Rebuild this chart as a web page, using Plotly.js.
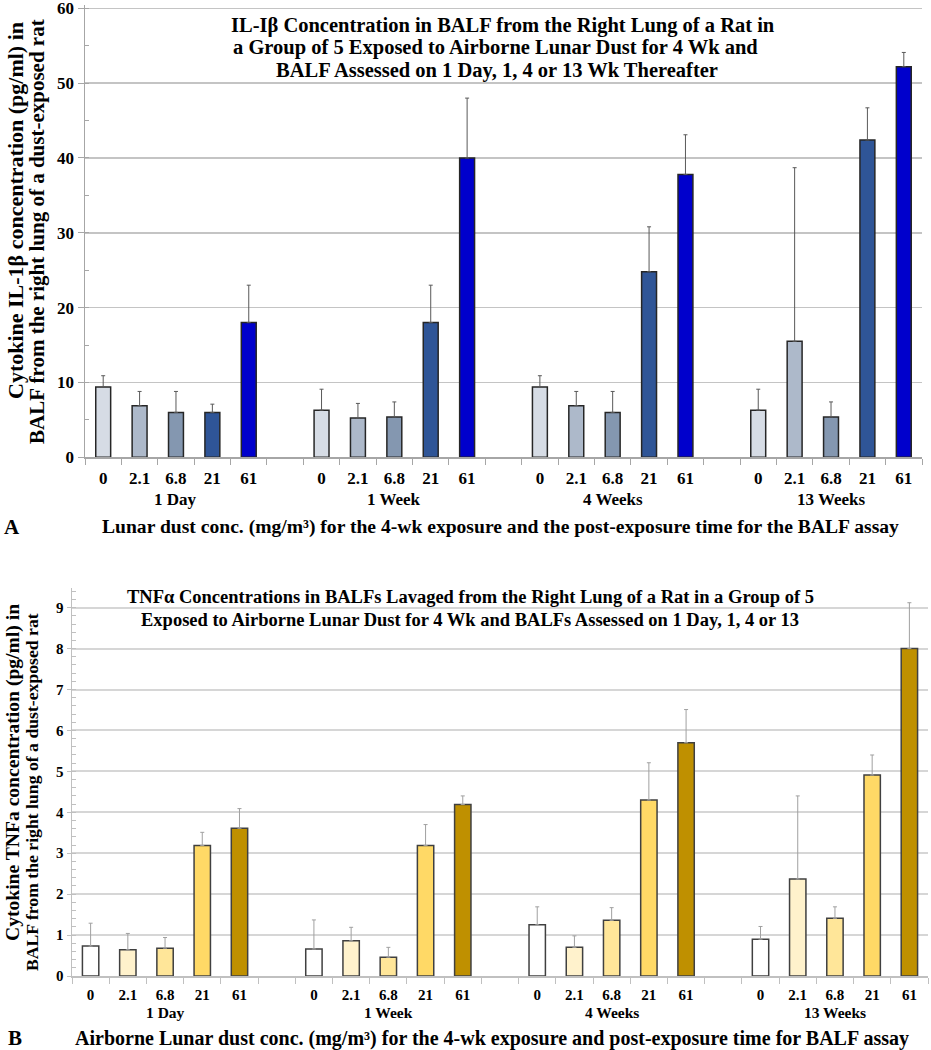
<!DOCTYPE html>
<html>
<head>
<meta charset="utf-8">
<script src="https://cdn.plot.ly/plotly-3.0.1.min.js"></script>
<style>html,body{margin:0;padding:0;background:#fff;}#chart{width:931px;height:1050px;}</style>
</head>
<body>
<div id="chart"></div>
<script>
// ---------- data ----------
const groups = ["1 Day", "1 Week", "4 Weeks", "13 Weeks"];
const concs = ["0", "2.1", "6.8", "21", "61"];

// Panel A: IL-1β (pg/ml), mean and SD per group, ordered by concs
const il1bMean1Day   = [9.4, 6.9, 6.0, 6.0, 18.0];
const il1bMean1Week  = [6.3, 5.25, 5.4, 18.0, 40.0];
const il1bMean4Weeks = [9.4, 6.9, 6.0, 24.8, 37.8];
const il1bMean13Weeks= [6.3, 15.5, 5.4, 42.4, 52.2];
const il1bSd1Day     = [1.5, 1.9, 2.8, 1.1, 5.0];
const il1bSd1Week    = [2.8, 1.95, 2.0, 5.0, 8.0];
const il1bSd4Weeks   = [1.5, 1.9, 2.8, 6.0, 5.3];
const il1bSd13Weeks  = [2.8, 23.2, 2.0, 4.3, 1.9];

// Panel B: TNFα (pg/ml)
const tnfMean1Day    = [0.73, 0.64, 0.68, 3.19, 3.61];
const tnfMean1Week   = [0.66, 0.86, 0.46, 3.19, 4.19];
const tnfMean4Weeks  = [1.25, 0.70, 1.36, 4.30, 5.70];
const tnfMean13Weeks = [0.90, 2.37, 1.41, 4.91, 8.00];
const tnfSd1Day      = [0.56, 0.40, 0.26, 0.32, 0.48];
const tnfSd1Week     = [0.71, 0.33, 0.24, 0.51, 0.21];
const tnfSd4Weeks    = [0.44, 0.28, 0.31, 0.91, 0.81];
const tnfSd13Weeks   = [0.31, 2.03, 0.28, 0.49, 1.12];

const blueColors = ["#d6dce5", "#adb9ca", "#8497b0", "#2f5597", "#0000cc"];
const goldColors = ["#ffffff", "#fff2cc", "#ffe699", "#ffd966", "#bf9000"];

const titleA = ["IL-Iβ Concentration in BALF from the Right Lung of a Rat in",
                "a Group of 5 Exposed to Airborne Lunar Dust for 4 Wk and",
                "BALF Assessed on 1 Day, 1, 4 or 13 Wk Thereafter"];
const titleB = ["TNFα Concentrations in BALFs Lavaged from the Right Lung of a Rat in a Group of 5",
                "Exposed to Airborne Lunar Dust for 4 Wk and BALFs Assessed on 1 Day, 1, 4 or 13"];
const yTitleA = ["Cytokine IL-1β concentration (pg/ml) in", "BALF from the right lung of a dust-exposed rat"];
const yTitleB = ["Cytokine TNFa concentration (pg/ml) in", "BALF from the right lung of a dust-exposed rat"];
const xTitleA = "Lunar dust conc. (mg/m³) for the 4-wk exposure and the post-exposure time for the BALF assay";
const xTitleB = "Airborne Lunar dust conc. (mg/m³) for the 4-wk exposure and post-exposure time for BALF assay";

// ---------- build ----------
const W = 931, H = 1050;
const serif = '"Liberation Serif", "Times New Roman", serif';

const cats = [], catText = [], barCats = [];
groups.forEach((g, gi) => {
  if (gi > 0) { cats.push("gap" + gi); catText.push(""); }
  concs.forEach(c => { const id = g + "|" + c; cats.push(id); catText.push(c); barCats.push(id); });
});

const il1bMeans = [il1bMean1Day, il1bMean1Week, il1bMean4Weeks, il1bMean13Weeks].flat();
const il1bSds = [il1bSd1Day, il1bSd1Week, il1bSd4Weeks, il1bSd13Weeks].flat();
const tnfMeans = [tnfMean1Day, tnfMean1Week, tnfMean4Weeks, tnfMean13Weeks].flat();
const tnfSds = [tnfSd1Day, tnfSd1Week, tnfSd4Weeks, tnfSd13Weeks].flat();
const zeros = barCats.map(() => 0);
const blues = groups.map(() => blueColors).flat();
const golds = groups.map(() => goldColors).flat();

const traces = [
  {
    type: "bar", x: barCats, y: il1bMeans, xaxis: "x", yaxis: "y", width: 0.41,
    marker: { color: blues, line: { color: "#262626", width: 1.5 } },
    error_y: { type: "data", symmetric: false, array: il1bSds, arrayminus: zeros, color: "#595959", thickness: 1, width: 2 },
    hoverinfo: "y", showlegend: false
  },
  {
    type: "bar", x: barCats, y: tnfMeans, xaxis: "x2", yaxis: "y2", width: 0.44,
    marker: { color: golds, line: { color: "#404040", width: 1.5 } },
    error_y: { type: "data", symmetric: false, array: tnfSds, arrayminus: zeros, color: "#a0a0a0", thickness: 1, width: 2 },
    hoverinfo: "y", showlegend: false
  }
];

const py = p => 1 - p / H;
const px = p => p / W;

function xAxis(domain, anchor, fontSize, lineColor, standoff) {
  return {
    domain: domain, anchor: anchor, type: "category",
    categoryorder: "array", categoryarray: cats, range: [-0.5, cats.length - 0.5],
    tickmode: "array", tickvals: cats, ticktext: catText, tickson: "boundaries",
    ticks: "outside", ticklen: 6, tickcolor: lineColor, tickwidth: 1,
    ticklabelstandoff: standoff,
    showline: true, linecolor: lineColor, linewidth: 1.5, showgrid: false, zeroline: false,
    tickfont: { family: serif, size: fontSize, color: "#000", weight: "bold" }
  };
}

// panel A: 0 at 457.3px, 60 at 8.3px
const aZero = 457.3, aSixty = 8.3, aTopVal = 60.4;
const aTopPx = aZero - (aZero - aSixty) * aTopVal / 60;

const layout = {
  width: W, height: H,
  margin: { l: 0, r: 0, t: 0, b: 0 },
  paper_bgcolor: "#fff", plot_bgcolor: "#fff",
  barmode: "overlay",
  xaxis: xAxis([px(85), px(922)], "y", 17, "#a6a6a6", 5),
  yaxis: {
    domain: [py(aZero), py(aTopPx)], anchor: "x", range: [0, aTopVal], dtick: 10,
    ticks: "outside", ticklen: 6, tickcolor: "#a6a6a6", ticklabeloverflow: "allow",
    minor: { dtick: 5, ticks: "inside", ticklen: 4, tickcolor: "#a6a6a6", showgrid: false },
    showline: true, linecolor: "#a6a6a6", linewidth: 1.5,
    gridcolor: "#c4c4c4", gridwidth: 1.5, zeroline: false,
    tickfont: { family: serif, size: 17, color: "#000", weight: "bold" }
  },
  xaxis2: xAxis([px(72), px(928)], "y2", 15, "#c0c0c0", 4),
  yaxis2: {
    domain: [py(976), py(588)], anchor: "x2", range: [0, 9.48], dtick: 1,
    ticks: "outside", ticklen: 4, tickcolor: "#c0c0c0", ticklabeloverflow: "allow",
    minor: { dtick: 0.2, ticks: "inside", ticklen: 4, tickcolor: "#c0c0c0", showgrid: false },
    showline: true, linecolor: "#c0c0c0", linewidth: 1.5,
    gridcolor: "#d6d6d6", gridwidth: 2, zeroline: false,
    tickfont: { family: serif, size: 15, color: "#000", weight: "bold" }
  },
  annotations: []
};

const ann = layout.annotations;
function addText(text, x, y, size, extra) {
  ann.push(Object.assign({ showarrow: false, xref: "paper", yref: "paper", xanchor: "center", yanchor: "middle",
    x: px(x), y: py(y), text: "<b>" + text + "</b>",
    font: { family: serif, size: size, color: "#000" } }, extra || {}));
}

// Titles (one annotation per line for tight leading)
[[503, 25], [496, 48], [497, 71]].forEach((p, i) => addText(titleA[i], p[0], p[1], 20.5));
[[470, 597], [470, 620]].forEach((p, i) => addText(titleB[i], p[0], p[1], 18.5));

// Y titles
addText(yTitleA[0], 15, 211, 22, { textangle: -90 });
addText(yTitleA[1], 37, 232, 21, { textangle: -90 });
addText(yTitleB[0], 13, 773, 19.6, { textangle: -90 });
addText(yTitleB[1], 32, 792, 17.7, { textangle: -90 });

// Group labels
groups.forEach(g => {
  ann.push({ x: g + "|6.8", xref: "x", y: py(499), yref: "paper", showarrow: false, yanchor: "middle",
    text: "<b>" + g + "</b>", font: { family: serif, size: 17, color: "#000" } });
  ann.push({ x: g + "|6.8", xref: "x2", y: py(1012), yref: "paper", showarrow: false, yanchor: "middle",
    text: "<b>" + g + "</b>", font: { family: serif, size: 15.5, color: "#000" } });
});

// X titles and panel letters
addText(xTitleA, 500, 527, 19.6);
addText("A", 12, 527, 21);
addText(xTitleB, 492, 1038, 20);
addText("B", 15, 1038, 21);

Plotly.newPlot("chart", traces, layout, { staticPlot: true, displayModeBar: false });
</script>
</body>
</html>
